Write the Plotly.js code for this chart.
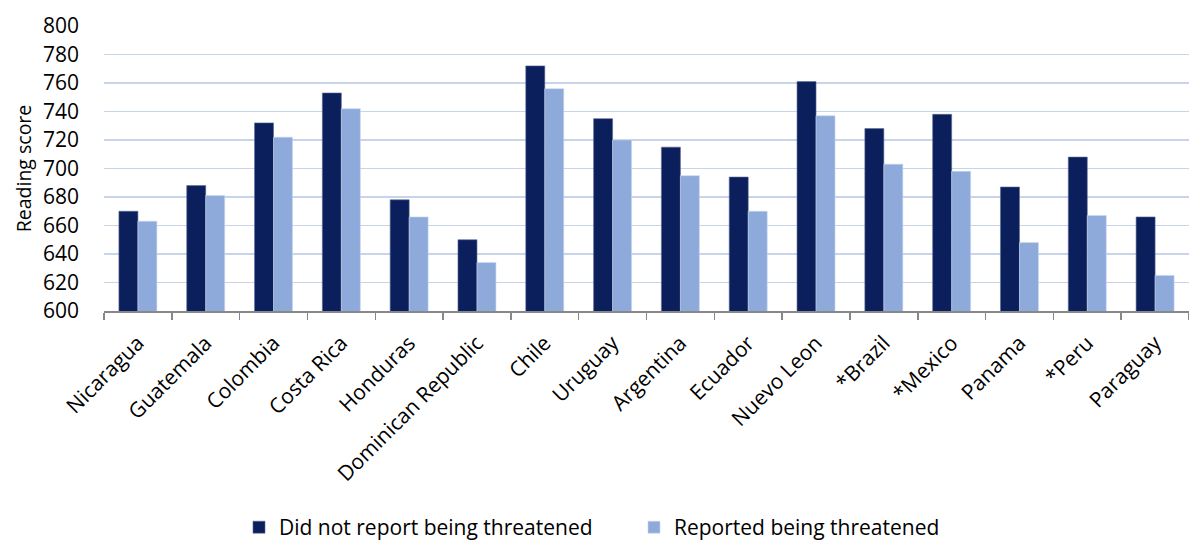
<!DOCTYPE html>
<html>
<head>
<meta charset="utf-8">
<script src="https://cdn.plot.ly/plotly-3.0.1.min.js"></script>
<style>
  html, body { margin: 0; padding: 0; background: #ffffff; }
  #chart { width: 1189px; height: 545px; }
</style>
</head>
<body>
<div id="chart"></div>
<script>
// Reading scores by country, split by whether the student reported being threatened
const countries = [
  "Nicaragua", "Guatemala", "Colombia", "Costa Rica", "Honduras",
  "Dominican Republic", "Chile", "Uruguay", "Argentina", "Ecuador",
  "Nuevo Leon", "*Brazil", "*Mexico", "Panama", "*Peru", "Paraguay"
];
const notThreatened = [670, 688, 732, 753, 678, 650, 772, 735, 715, 694, 761, 728, 738, 687, 708, 666];
const threatened    = [663, 681, 722, 742, 666, 634, 756, 720, 695, 670, 737, 703, 698, 648, 667, 625];
const seriesNames = ["Did not report being threatened", "Reported being threatened"];
const yTicks = [600, 620, 640, 660, 680, 700, 720, 740, 760, 780, 800];

const FONT = "'Open Sans', sans-serif";

const traces = [
  {
    type: "bar",
    name: seriesNames[0],
    x: countries,
    y: notThreatened,
    marker: { color: "#0b1f5c", line: { color: "#5a6a94", width: 0.6 } }
  },
  {
    type: "bar",
    name: seriesNames[1],
    x: countries,
    y: threatened,
    marker: { color: "#8eaadb", line: { color: "#c9d6ee", width: 0.6 } }
  }
];

const layout = {
  width: 1189,
  height: 545,
  margin: { l: 104, r: 0, t: 26, b: 234 },
  paper_bgcolor: "#ffffff",
  plot_bgcolor: "#ffffff",
  barmode: "group",
  bargap: 0.44,
  bargroupgap: 0,
  font: { family: FONT, size: 20, color: "#000000" },
  showlegend: true,
  legend: {
    orientation: "h",
    xref: "container",
    yref: "container",
    x: 0.201,
    xanchor: "left",
    y: 0.032,
    yanchor: "middle",
    font: { family: FONT, size: 21, color: "#000000" },
    itemwidth: 30,
    entrywidth: 350,
    entrywidthmode: "pixels",
    traceorder: "normal"
  },
  xaxis: {
    type: "category",
    automargin: false,
    tickangle: -45,
    tickson: "boundaries",
    ticks: "outside",
    ticklen: 7,
    tickcolor: "#888888",
    tickwidth: 1.5,
    showline: true,
    linecolor: "#888888",
    linewidth: 1.5,
    showgrid: false,
    ticklabelstandoff: 10,
    tickfont: { family: FONT, size: 21, color: "#000000" }
  },
  yaxis: {
    range: [600, 800],
    automargin: false,
    tickvals: yTicks,
    ticktext: yTicks.map(String),
    showline: false,
    showgrid: true,
    gridcolor: "#c8d4ea",
    gridwidth: 1.5,
    zeroline: false,
    ticks: "",
    ticklabelstandoff: 24,
    tickfont: { family: FONT, size: 21, color: "#000000" },
    title: { text: "Reading score", font: { family: FONT, size: 19.5, color: "#000000" }, standoff: 6 }
  }
};

Plotly.newPlot("chart", traces, layout, { displayModeBar: false, staticPlot: true });
</script>
</body>
</html>
